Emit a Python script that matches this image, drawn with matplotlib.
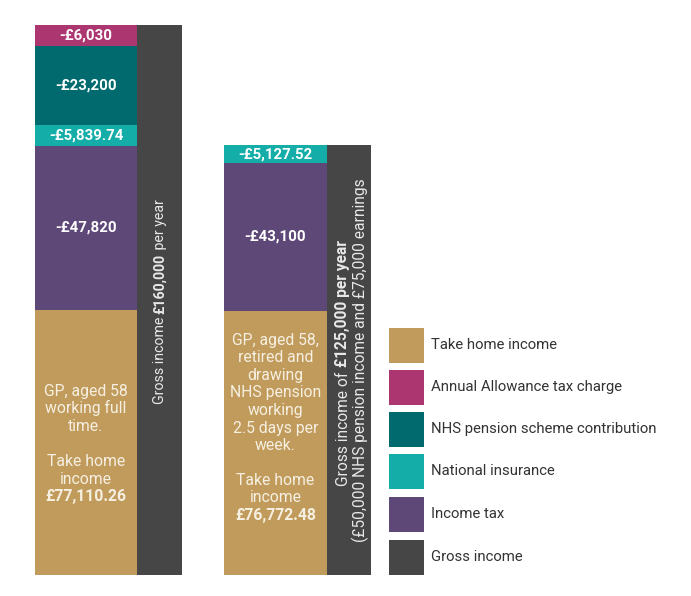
import matplotlib
matplotlib.use("Agg")
import matplotlib.pyplot as plt
from matplotlib.patches import Rectangle

# ---------------- data ----------------
scenarios = ["GP, aged 58, full time", "GP, aged 58, retired and working part time"]
take_home = [77110.26, 76772.48]
income_tax = [47820, 43100]
national_ins = [5839.74, 5127.52]
nhs_pension = [23200, 0]
aa_charge = [6030, 0]
gross = [160000, 125000]

legend_labels = ["Take home income", "Annual Allowance tax charge",
                 "NHS pension scheme contribution", "National insurance",
                 "Income tax", "Gross income"]

desc_lines = [
    ["GP, aged 58", "working full", "time.", "", "Take home", "income"],
    ["GP, aged 58,", "retired and", "drawing", "NHS pension", "working",
     "2.5 days per", "week.", "", "Take home", "income"],
]
gross_text = [
    [[("Gross income ", "normal"), ("£160,000", "bold"), (" per year", "normal")]],
    [[("Gross income of ", "normal"), ("£125,000 per year", "bold")],
     [("(£50,000 NHS pension income and £75,000 earnings", "normal")]],
]

# ---------------- style ----------------
C_TAKE = "#C19B5C"
C_AA = "#AC3670"
C_NHS = "#006A6F"
C_NI = "#14ADA8"
C_TAX = "#5E4878"
C_GROSS = "#464646"
TXT_LIGHT = "#F6F0E2"
FAM = ["Roboto", "DejaVu Sans"]

W, H = 691, 596
fig = plt.figure(figsize=(W / 100, H / 100), dpi=100)
fig.patch.set_facecolor("white")

ax = fig.add_axes([0, 21 / H, 1, 550 / H])
ax.set_xlim(0, W)
ax.set_ylim(0, 160000)
ax.axis("off")

stack_left = [35, 224]
stack_w = [102, 103]
gross_left = [137, 327]
gross_w = [45, 44]


def fmt(v):
    if float(v).is_integer():
        return "-£{:,.0f}".format(v)
    return "-£{:,.2f}".format(v)


for i in range(len(scenarios)):
    bottom = 0
    segs = [(take_home[i], C_TAKE, False), (income_tax[i], C_TAX, True),
            (national_ins[i], C_NI, True), (nhs_pension[i], C_NHS, True),
            (aa_charge[i], C_AA, True)]
    for val, col, lab in segs:
        if val <= 0:
            continue
        ax.bar(stack_left[i], val, width=stack_w[i], bottom=bottom,
               color=col, align="edge", linewidth=0)
        if lab:
            ax.text(stack_left[i] + stack_w[i] / 2, bottom + val / 2, fmt(val),
                    ha="center", va="center", color="white", fontsize=10.8,
                    fontweight="bold", family=FAM)
        bottom += val
    ax.bar(gross_left[i], gross[i], width=gross_w[i], bottom=0,
           color=C_GROSS, align="edge", linewidth=0)


def fx(x):
    return x / W


def fy(y):
    return 1 - y / H


# description text in take-home segment
desc_top = [391, 340]
step = 17.5
for i, lines in enumerate(desc_lines):
    cx = stack_left[i] + stack_w[i] / 2
    y = desc_top[i]
    for ln in lines:
        if ln:
            fig.text(fx(cx), fy(y + 5), ln, ha="center", va="baseline",
                     color=TXT_LIGHT, fontsize=11.3, fontweight="normal", family=FAM)
        y += step
    fig.text(fx(cx), fy(y + 5), "£{:,.2f}".format(take_home[i]), ha="center",
             va="baseline", color=TXT_LIGHT, fontsize=11.3, fontweight="bold",
             family=FAM)

# rotated rich text in gross bars
renderer = fig.canvas.get_renderer()


def rich_rotated(xc, yc, segs, size, color):
    widths = []
    for s, w in segs:
        t = fig.text(0, 0, s.replace(" ", "\u00a0"), fontsize=size, fontweight=w, family=FAM)
        widths.append(t.get_window_extent(renderer).width)
        t.remove()
    total = sum(widths)
    ypix = yc + total / 2  # bottom start (pixel from top)
    for (s, w), wd in zip(segs, widths):
        fig.text(fx(xc), fy(ypix), s.replace(" ", "\u00a0"), rotation=90,
                 rotation_mode="anchor", ha="left", va="center",
                 fontsize=size, fontweight=w, color=color, family=FAM)
        ypix -= wd


rot_pos = [[(160, 302, 10.2)], [(343, 363, 11.2), (360, 360, 11.2)]]
for i, lines in enumerate(gross_text):
    for (xc, yc, sz), segs in zip(rot_pos[i], lines):
        rich_rotated(xc, yc, segs, sz, "#E8E8E8")

# legend
leg_cols = [C_TAKE, C_AA, C_NHS, C_NI, C_TAX, C_GROSS]
leg_top = [328, 370, 412, 454, 497, 540]
for lab, col, top in zip(legend_labels, leg_cols, leg_top):
    fig.patches.append(Rectangle((fx(389), fy(top + 35)), 35 / W, 35 / H,
                                 transform=fig.transFigure, color=col, linewidth=0))
    fig.text(fx(431), fy(top + 17), lab, ha="left", va="center",
             fontsize=10.7, color="#333333", family=FAM)

fig.savefig("out.png", dpi=100, facecolor="white")
